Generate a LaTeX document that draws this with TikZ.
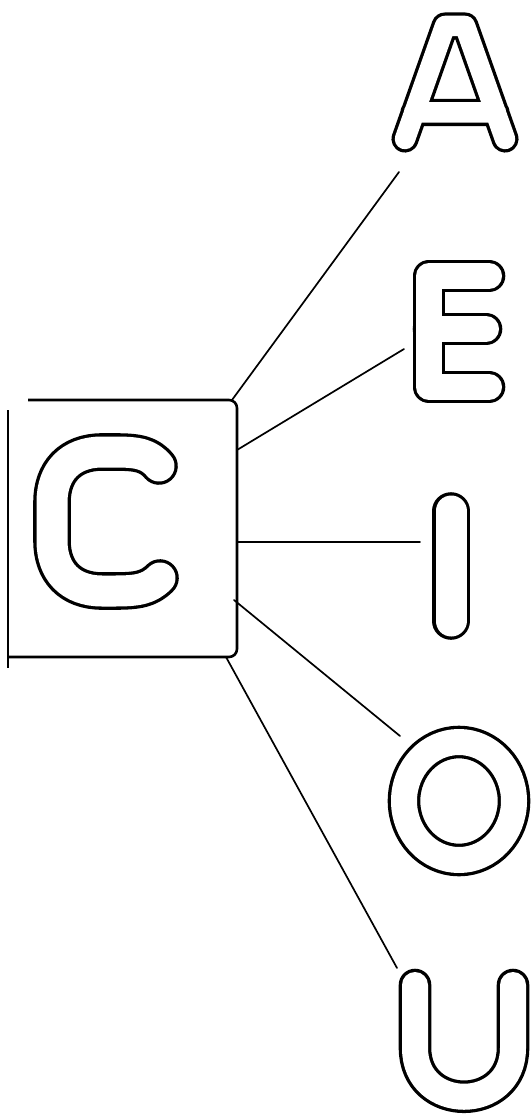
\documentclass[tikz,border=0pt]{standalone}
\tikzset{
  letter/.style={line width=3.3pt, double=white, double distance=26pt, line cap=round, line join=round},
  link/.style={line width=1.7pt, line cap=round},
  boxline/.style={line width=2.6pt, line join=round}
}
\begin{document}
\begin{tikzpicture}[x=1pt,y=-1pt]
\useasboundingbox (0,0) rectangle (532,1115);
% box with C
\node[minimum width=229pt, minimum height=257pt, inner sep=0pt, outer sep=0pt] (Cbox) at (122.5,528.5) {};
\draw[boxline, rounded corners=8pt] (28,400) -- (237,400) -- (237,657) -- (8,657);
\draw[boxline] (8,410) -- (8,668);
\draw[letter, double distance=31pt] (159,466) .. controls (149,454) and (138,452) .. (115,452) -- (102,452)
  .. controls (70,452) and (52,472) .. (52,502) -- (52,541)
  .. controls (52,571) and (70,591) .. (102,591) -- (115,591)
  .. controls (138,591) and (149,589) .. (160,578);
% A
\draw[letter, double distance=20.5pt] (405,139) -- (445,26) -- (465,26) -- (505,139) (414,112.5) -- (496,112.5);
\coordinate (A) at (399,172);
% E
\draw[letter] (489,276) -- (429,276) -- (429,387) -- (489,387) (429,329) -- (486,329);
\coordinate (E) at (404,349);
% I
\draw[letter, double distance=31pt] (451,511) -- (451,621);
\coordinate (I) at (420,542);
% O
\draw[letter] (459,801) ellipse [x radius=55, y radius=59];
\coordinate (O) at (400,736);
% U
\draw[letter] (415,985) -- (415,1048) .. controls (415,1113) and (513,1113) .. (513,1048) -- (513,985);
\coordinate (U) at (397,968);
% connector starts on the box
\coordinate (sA) at (232,400);
\coordinate (sE) at (237,450);
\coordinate (sI) at (237,542);
\coordinate (sO) at (234,600);
\coordinate (sU) at (226,657);
\draw[link] (sA) -- (A);
\draw[link] (sE) -- (E);
\draw[link] (sI) -- (I);
\draw[link] (sO) -- (O);
\draw[link] (sU) -- (U);
\end{tikzpicture}
\end{document}
